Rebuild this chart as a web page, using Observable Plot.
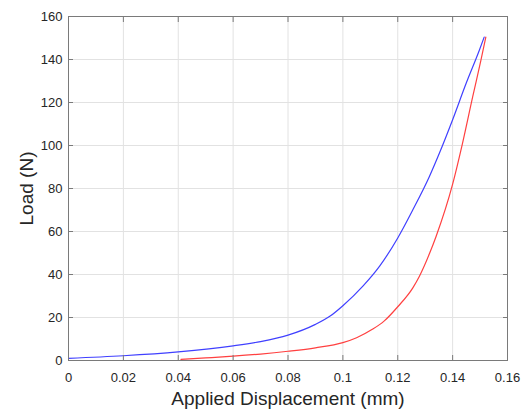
<!DOCTYPE html>
<html>
<head>
<meta charset="utf-8">
<script src="https://cdn.jsdelivr.net/npm/d3@7"></script>
<script src="https://cdn.jsdelivr.net/npm/@observablehq/plot@0.6"></script>
<style>
  html, body { margin: 0; padding: 0; background: #fff; }
  #chart { width: 523px; height: 409px; }
  svg { font-family: "Liberation Sans", Arial, sans-serif; }
</style>
</head>
<body>
<div id="chart"></div>
<script>
// Series A (blue): displacement (mm) and load (N)
const blueX = [0, 0.02, 0.04, 0.06, 0.07, 0.08, 0.09, 0.0955, 0.1, 0.1073, 0.1134, 0.12, 0.1255, 0.1315, 0.1352, 0.14, 0.1449, 0.1497, 0.1515];
const blueY = [1.0, 2.2, 4.0, 6.8, 8.8, 11.8, 16.8, 20.8, 25.5, 34.6, 43.9, 57.0, 70.1, 85.5, 96.5, 112.0, 128.8, 144.2, 150.4];
// Series B (red)
const redX = [0.041, 0.05, 0.06, 0.07, 0.08, 0.09, 0.1, 0.105, 0.1109, 0.115, 0.12, 0.1255, 0.1279, 0.1315, 0.134, 0.14, 0.1436, 0.1473, 0.1503, 0.1521];
const redY = [0.5, 1.2, 2.0, 3.0, 4.3, 5.9, 8.3, 10.6, 14.6, 18.3, 25.0, 33.8, 39.2, 49.5, 57.8, 82.0, 101.0, 122.6, 139.6, 150.4];

const xTicks = [0, 0.02, 0.04, 0.06, 0.08, 0.1, 0.12, 0.14, 0.16];
const xTickLabels = ["0", "0.02", "0.04", "0.06", "0.08", "0.1", "0.12", "0.14", "0.16"];
const yTicks = [0, 20, 40, 60, 80, 100, 120, 140, 160];
const xLabel = "Applied Displacement (mm)";
const yLabel = "Load (N)";

const blue = blueX.map((x, i) => ({x, y: blueY[i]}));
const red = redX.map((x, i) => ({x, y: redY[i]}));

const axisColor = "#7a7a7a";
const textColor = "#262626";

const chart = Plot.plot({
  width: 523,
  height: 409,
  marginLeft: 68,
  marginRight: 16,
  marginTop: 16,
  marginBottom: 49,
  style: {background: "#fff", fontFamily: "'Liberation Sans', Arial, sans-serif"},
  x: {domain: [0, 0.16], ticks: xTicks},
  y: {domain: [0, 160], ticks: yTicks},
  marks: [
    Plot.gridX(xTicks, {stroke: "#e2e2e2", strokeOpacity: 1, strokeWidth: 1}),
    Plot.gridY(yTicks, {stroke: "#e2e2e2", strokeOpacity: 1, strokeWidth: 1}),
    Plot.line(blue, {x: "x", y: "y", stroke: "#4040ff", strokeWidth: 1.2, curve: "monotone-x"}),
    Plot.line(red, {x: "x", y: "y", stroke: "#ff4040", strokeWidth: 1.2, curve: "monotone-x"}),
    Plot.frame({stroke: axisColor, strokeWidth: 1}),
    Plot.axisX(xTicks, {anchor: "bottom", tickSize: 0, tickPadding: 12, tickFormat: (d, i) => xTickLabels[i], fontSize: 13, color: textColor, label: null}),
    Plot.axisX(xTicks, {anchor: "bottom", tickSize: -5, text: null, stroke: axisColor, label: null}),
    Plot.axisX(xTicks, {anchor: "top", tickSize: -5, text: null, stroke: axisColor, label: null}),
    Plot.axisY(yTicks, {anchor: "left", tickSize: 0, tickPadding: 6, fontSize: 13, color: textColor, label: null}),
    Plot.axisY(yTicks, {anchor: "left", tickSize: -5, text: null, stroke: axisColor, label: null}),
    Plot.axisY(yTicks, {anchor: "right", tickSize: -5, text: null, stroke: axisColor, label: null}),
    Plot.text([xLabel], {frameAnchor: "bottom", dy: 38, text: d => d, fontSize: 19, fill: textColor, textAnchor: "middle", lineAnchor: "middle"}),
    Plot.text([yLabel], {frameAnchor: "left", dx: -42, rotate: -90, text: d => d, fontSize: 19, fill: textColor, textAnchor: "middle", lineAnchor: "middle"})
  ]
});
document.getElementById("chart").appendChild(chart);
</script>
</body>
</html>
